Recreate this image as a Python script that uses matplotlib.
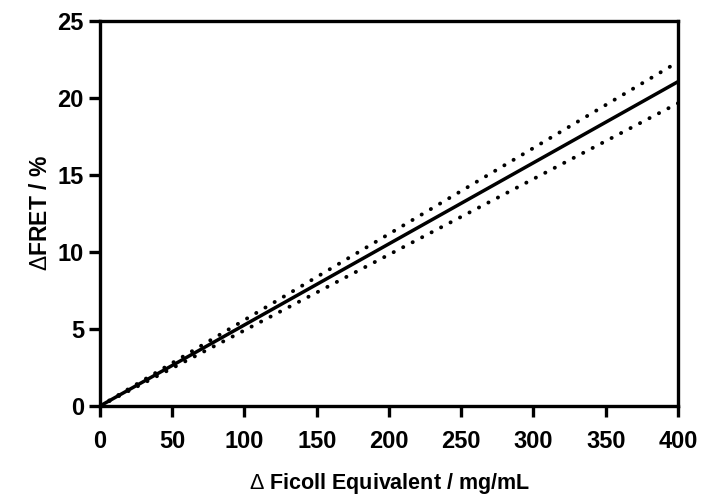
import matplotlib
matplotlib.use("Agg")
import matplotlib.pyplot as plt

plt.rcParams['font.family'] = ['Liberation Sans', 'DejaVu Sans']
plt.rcParams['mathtext.fontset'] = 'custom'
plt.rcParams['mathtext.rm'] = 'Liberation Sans'
plt.rcParams['mathtext.it'] = 'Liberation Sans'
plt.rcParams['mathtext.bf'] = 'Liberation Sans:bold'

# Linear fit through the origin with its 95% confidence band
ficoll = [0, 400]
fret_fit = [0, 21.06]
fret_upper = [0, 22.34]
fret_lower = [0, 19.66]

x_ticks = [0, 50, 100, 150, 200, 250, 300, 350, 400]
y_ticks = [0, 5, 10, 15, 20, 25]

fig = plt.figure(figsize=(7.03, 5.0), dpi=100)
ax = fig.add_axes([0.1422, 0.188, 0.8222, 0.770])

ax.plot(ficoll, fret_fit, color='black', lw=2.5, solid_capstyle='butt', zorder=3)
for band in (fret_upper, fret_lower):
    ax.plot(ficoll, band, color='black', lw=2.8,
            linestyle=(0, (0.05, 2.7)), dash_capstyle='round', zorder=2)

ax.set_xlim(0, 400)
ax.set_ylim(0, 25)
ax.set_xticks(x_ticks)
ax.set_yticks(y_ticks)

for s in ax.spines.values():
    s.set_linewidth(2.4)
ax.tick_params(direction='out', length=8, width=2.4, labelsize=17)
ax.tick_params(axis='x', pad=9.5)
ax.tick_params(axis='y', pad=3.5)
for lbl in ax.get_xticklabels() + ax.get_yticklabels():
    lbl.set_fontweight('bold')

ax.set_xlabel(r"$\Delta$ Ficoll Equivalent / mg/mL", fontsize=15.5, fontweight='bold', labelpad=13)
ax.set_ylabel(r"$\Delta$FRET / %", fontsize=16.5, fontweight='bold', labelpad=4)

fig.savefig("out.png", dpi=100)
